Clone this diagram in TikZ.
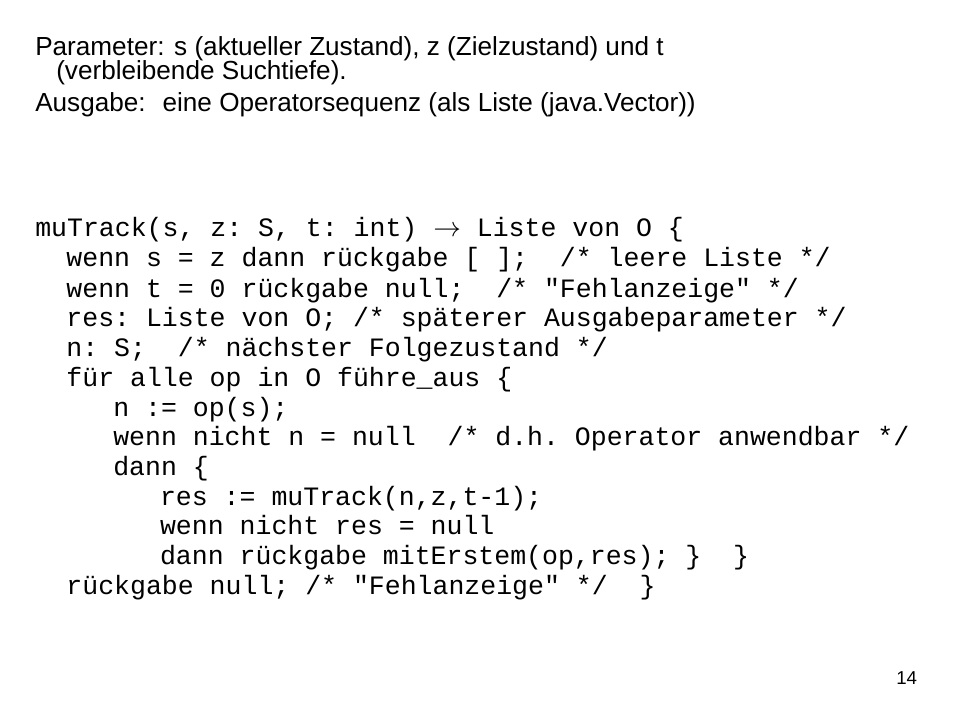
\documentclass[tikz,border=0pt]{standalone}
\usepackage{fontspec}
\setmainfont{Liberation Sans}
\setmonofont{Liberation Mono}
\usetikzlibrary{positioning}
\tikzset{
  headline/.style={anchor=base west, inner sep=0pt, font=\fontsize{19.6}{23}\selectfont},
  codeline/.style={anchor=base west, inner sep=0pt, font=\ttfamily\fontsize{19.9}{23}\selectfont},
}
\begin{document}
\begin{tikzpicture}[x=0.75pt,y=-0.75pt]
  \useasboundingbox (0,0) rectangle (960,720);
  % header
  \node[headline] at (35,56) (par1) {Parameter: s (aktueller Zustand), z (Zielzustand) und t};
  \node[headline] at (56,80) (par2) {(verbleibende Suchtiefe).};
  \node[headline] at (35,112) (ausg) {Ausgabe:~ eine Operatorsequenz (als Liste (java.Vector))};
  % code
  \node[codeline] at (35,237) (c0) {muTrack(s, z: S, t: int) $\rightarrow$ Liste von O \{};
  \node[codeline] at (66.2,267) (c1) {wenn s = z dann rückgabe [ ];~ /* leere Liste */};
  \node[codeline] at (66.2,297) (c2) {wenn t = 0 rückgabe null;~ /* "Fehlanzeige" */};
  \node[codeline] at (66.2,326) (c3) {res: Liste von O; /* späterer Ausgabeparameter */};
  \node[codeline] at (66.2,356) (c4) {n: S;~ /* nächster Folgezustand */};
  \node[codeline] at (66.2,386) (c5) {für alle op in O führe\_aus \{};
  \node[codeline] at (113,416) (c6) {n := op(s);};
  \node[codeline] at (113,445) (c7) {wenn nicht n = null~ /* d.h. Operator anwendbar */};
  \node[codeline] at (113,475) (c8) {dann \{};
  \node[codeline] at (159.8,505) (c9) {res := muTrack(n,z,t-1);};
  \node[codeline] at (159.8,534) (c10) {wenn nicht res = null};
  \node[codeline] at (159.8,564) (c11) {dann rückgabe mitErstem(op,res); \}~ \}};
  \node[codeline] at (66.2,594) (c12) {rückgabe null; /* "Fehlanzeige" */~ \}};
  % page number
  \node[headline, font=\fontsize{14}{16}\selectfont] at (896,684) (pnum) {14};
\end{tikzpicture}
\end{document}
